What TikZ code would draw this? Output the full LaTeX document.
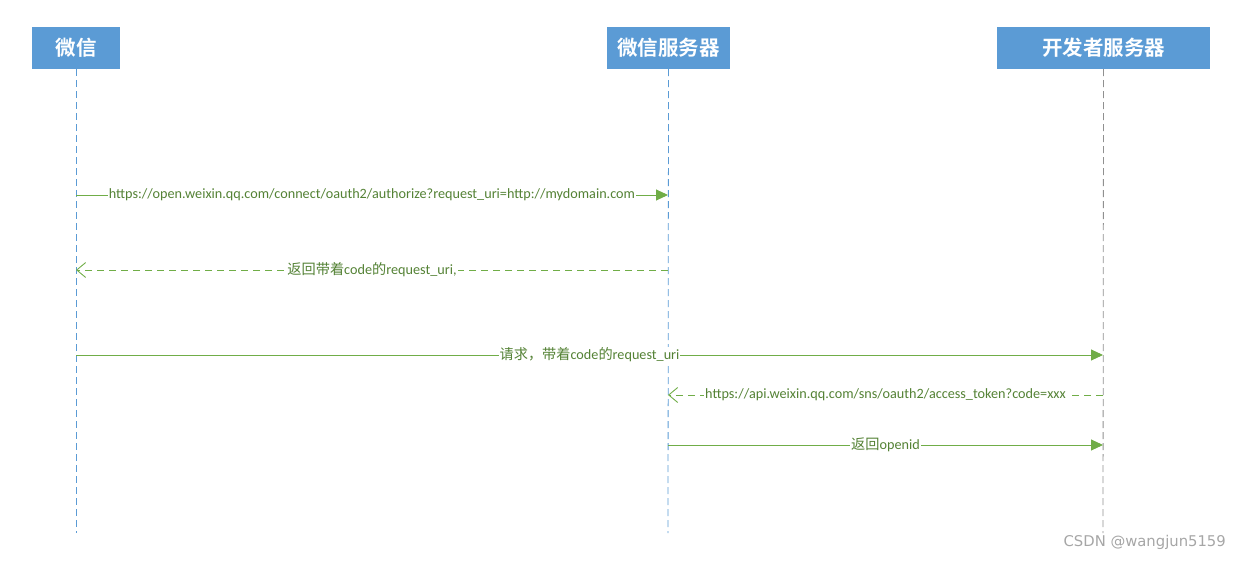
\documentclass[tikz,border=0pt]{standalone}
\usepackage{fontspec}
\setmainfont{Carlito}
\newfontfamily\cjk{Noto Sans CJK SC}
\newfontfamily\cjkb{Noto Sans CJK SC Bold}
\newfontfamily\wmfont{DejaVu Sans}
\usetikzlibrary{arrows.meta}
\definecolor{hdr}{HTML}{5B9BD5}
\definecolor{lnk}{HTML}{70AD47}
\definecolor{lbl}{HTML}{548235}
\definecolor{lifeblue}{HTML}{5B9BD5}
\definecolor{lifegray}{HTML}{909090}
\definecolor{wm}{HTML}{A6A6A6}
\tikzset{
  x=1pt, y=-1pt,
  hbox/.style={fill=hdr, text=white, inner sep=0pt, font=\cjkb\fontsize{20.5}{20.5}\selectfont},
  life/.style={dash pattern=on 7pt off 4pt, line width=0.8pt},
  msg/.style={draw=lnk, line width=0.9pt, -{Triangle[length=12pt,width=11pt]}},
  ret/.style={draw=lnk, line width=0.9pt, dash pattern=on 7pt off 5pt, -{Straight Barb[length=9pt,width=15pt,line width=0.9pt]}},
  lab/.style={fill=white, text=lbl, inner sep=1pt, font=\fontsize{14.2}{14.2}\selectfont},
}
\begin{document}
\begin{tikzpicture}
\useasboundingbox (0,0) rectangle (1241,561);
\node[hbox, minimum width=88pt, minimum height=42pt] (a) at (76,48) {微信};
\node[hbox, minimum width=123pt, minimum height=42pt] (b) at (668.5,48) {微信服务器};
\node[hbox, minimum width=213pt, minimum height=42pt] (c) at (1103.5,48) {开发者服务器};
\coordinate (ae) at (76,533);
\coordinate (be) at (668,533);
\coordinate (ce) at (1103,533);
\draw[life, draw=lifeblue] (a.south) -- (ae);
\draw[life, draw=lifeblue] (b.south) -- (be);
\draw[life, draw=lifegray] (c.south) -- (ce);
% messages
\coordinate (a1) at (76,195); \coordinate (b1) at (668,195);
\draw[msg] (a1) -- node[lab] (l1) {https://open.weixin.qq.com/connect/oauth2/authorize?request\_uri=http://mydomain.com} (b1);
\coordinate (a2) at (76,270); \coordinate (b2) at (668,270);
\draw[ret] (b2) -- node[lab] (l2) {{\cjk 返回带着}code{\cjk 的}request\_uri,} (a2);
\coordinate (a3) at (76,355); \coordinate (c3) at (1103,355);
\draw[msg] (a3) -- node[lab] (l3) {{\cjk 请求，带着}code{\cjk 的}request\_uri} (c3);
\coordinate (b4) at (668,395); \coordinate (c4) at (1103,395);
\draw[ret] (c4) -- node[lab] (l4) {https://api.weixin.qq.com/sns/oauth2/access\_token?code=xxx} (b4);
\coordinate (b5) at (668,445); \coordinate (c5) at (1103,445);
\draw[msg] (b5) -- node[lab] (l5) {{\cjk 返回}openid} (c5);
\node[text=wm, font=\wmfont\fontsize{14.8}{14.8}\selectfont, anchor=east, inner sep=0pt] (w) at (1226,542) {CSDN @wangjun5159};
\end{tikzpicture}
\end{document}
